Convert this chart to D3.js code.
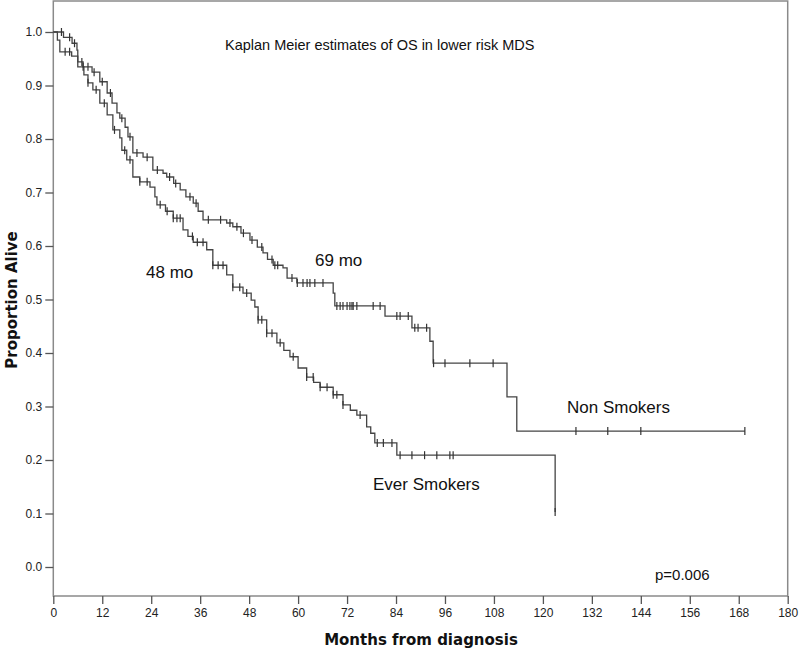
<!DOCTYPE html>
<html><head><meta charset="utf-8">
<script src="https://cdn.jsdelivr.net/npm/d3@7"></script>
<style>body{margin:0;background:#fff}svg{display:block}</style>
</head><body>
<svg id="c" width="800" height="654"></svg>
<script>
// ---- data ----
const xTicks = [0,12,24,36,48,60,72,84,96,108,120,132,144,156,168,180];
const yTicks = [0.0,0.1,0.2,0.3,0.4,0.5,0.6,0.7,0.8,0.9,1.0];

// Non Smokers: event times (months) and survival after each event
const nonTime = [0,2.5,4.6,5.8,6.0,7.3,9.5,11.4,13.2,14.4,15.6,16.3,17.6,18.3,19.5,22.0,24.4,26.9,27.8,29.5,31.1,32.5,34.3,35.5,36.7,42.5,44.0,46.0,48.2,50.0,51.4,52.5,53.9,56.3,57.3,59.7,68.6,69.0,81.3,87.9,92.3,93.1,111.2,113.6];
const nonSurv = [1.0,0.99,0.979,0.966,0.944,0.935,0.925,0.907,0.886,0.867,0.849,0.839,0.822,0.804,0.774,0.766,0.742,0.736,0.729,0.717,0.705,0.692,0.680,0.665,0.649,0.643,0.636,0.624,0.611,0.598,0.587,0.575,0.564,0.559,0.540,0.531,0.512,0.488,0.469,0.447,0.422,0.381,0.318,0.254];
const nonEnd = 169.5;
const nonCensor = [2,4,5.2,7,8.5,10,12,14,16.8,18.8,20.5,23,25.5,28.5,30,33.5,35,38,41,43.3,45,46.6,48.7,51.1,53.6,54.3,55,58.5,59.8,61.2,62.2,62.9,64.1,66.1,69.5,70.3,71,72,72.7,73.2,73.5,74.4,78.4,80.1,84.2,85,87,88.6,89.4,91.5,93.2,96,102.1,107.8,128.1,135.9,144,169.5];

// Ever Smokers
const everTime = [0,1.0,1.6,4.5,6.0,7.5,8.5,9.7,11.4,13.2,14.6,16.3,16.8,18.0,19.5,21.2,23.7,24.9,25.4,27.5,29.4,31.8,33.0,34.3,37.6,39.1,42.5,44.0,46.5,48.5,49.4,50.2,52.3,54.8,56.5,58.0,60.0,62.1,63.8,65.4,68.6,71.0,72.8,74.4,76.8,77.8,78.8,84.2,123.0];
const everSurv = [1.0,0.985,0.963,0.955,0.935,0.92,0.905,0.892,0.867,0.845,0.817,0.802,0.779,0.761,0.729,0.720,0.710,0.692,0.677,0.665,0.652,0.630,0.618,0.607,0.593,0.564,0.546,0.523,0.512,0.499,0.486,0.462,0.437,0.419,0.405,0.393,0.372,0.355,0.345,0.336,0.322,0.303,0.293,0.284,0.262,0.250,0.232,0.209,0.103];
const everEnd = 123.0;
const everCensor = [2.9,4.0,7.3,8.5,10.5,12.5,15,17.5,18.8,21.2,23,26.2,27.9,29.4,30.3,31.1,34.1,35.3,36.7,39.1,40.4,41.6,44,45.7,47.4,50.2,51.1,52.3,53.6,55.6,58.8,62.1,63.7,65.4,67.1,68.6,69.5,71,75.2,79.4,80.9,83,85,87.9,91,94,97.2,98,123];

// ---- drawing ----
const svg = d3.select('#c');
const L = 53.3, R = 787.7, T = 1, B = 596;
const x = d3.scaleLinear().domain([0,180]).range([L,R]);
const y = d3.scaleLinear().domain([0,1]).range([567,32]);

const axisColor = '#8a8a8a';
// frame
svg.append('rect').attr('x',L).attr('y',T).attr('width',R-L).attr('height',B-T)
  .attr('fill','none').attr('stroke',axisColor).attr('stroke-width',1.5);

// x axis
const xa = svg.append('g').attr('transform',`translate(0,${B})`)
  .call(d3.axisBottom(x).tickValues(xTicks).tickSize(8).tickPadding(4).tickFormat(d3.format('d')));
xa.select('.domain').remove();
xa.selectAll('line').attr('stroke','#555').attr('stroke-width',1.3);
xa.selectAll('text').attr('font-family','Liberation Sans, Arial, sans-serif').attr('font-size',12).attr('fill','#222');

// y axis
const ya = svg.append('g').attr('transform',`translate(${L},0)`)
  .call(d3.axisLeft(y).tickValues(yTicks).tickSize(8).tickPadding(3).tickFormat(d3.format('.1f')));
ya.select('.domain').remove();
ya.selectAll('line').attr('stroke','#555').attr('stroke-width',1.3);
ya.selectAll('text').attr('font-family','Liberation Sans, Arial, sans-serif').attr('font-size',12).attr('fill','#222');

// axis titles
svg.append('text').attr('x',421).attr('y',645).attr('text-anchor','middle')
  .attr('font-family','DejaVu Sans, sans-serif').attr('font-weight','bold').attr('font-size',15)
  .attr('fill','#111').text('Months from diagnosis');
svg.append('text').attr('transform','translate(17,300) rotate(-90)').attr('text-anchor','middle')
  .attr('font-family','DejaVu Sans, sans-serif').attr('font-weight','bold').attr('font-size',15)
  .attr('fill','#111').text('Proportion Alive');

// KM curves
function drawCurve(times, surv, end, censor){
  const pts = times.map((t,i)=>[t,surv[i]]);
  pts.push([end, surv[surv.length-1]]);
  const line = d3.line().x(d=>x(d[0])).y(d=>y(d[1])).curve(d3.curveStepAfter);
  svg.append('path').attr('d',line(pts)).attr('fill','none')
    .attr('stroke','#444').attr('stroke-width',1.3);
  const g = svg.append('g');
  censor.forEach(c=>{
    const i = d3.bisectRight(times,c)-1;
    const s = surv[Math.max(0,i)];
    g.append('line').attr('x1',x(c)).attr('x2',x(c)).attr('y1',y(s)-4).attr('y2',y(s)+4)
      .attr('stroke','#333').attr('stroke-width',1.2);
  });
}
drawCurve(nonTime, nonSurv, nonEnd, nonCensor);
drawCurve(everTime, everSurv, everEnd, everCensor);

// annotations
const ff = 'Liberation Sans, Arial, sans-serif';
function label(tx, px, py, size){
  svg.append('text').attr('x',px).attr('y',py).attr('font-family',ff).attr('font-size',size)
    .attr('fill','#111').attr('dominant-baseline','middle').text(tx);
}
label('Kaplan Meier estimates of OS in lower risk MDS', 225, 46, 14.5);
label('69 mo', 315, 262, 17);
label('48 mo', 146, 274, 17);
label('Non Smokers', 567, 409, 17);
label('Ever Smokers', 373, 486, 17);
label('p=0.006', 655, 576, 15);
</script>
</body></html>
